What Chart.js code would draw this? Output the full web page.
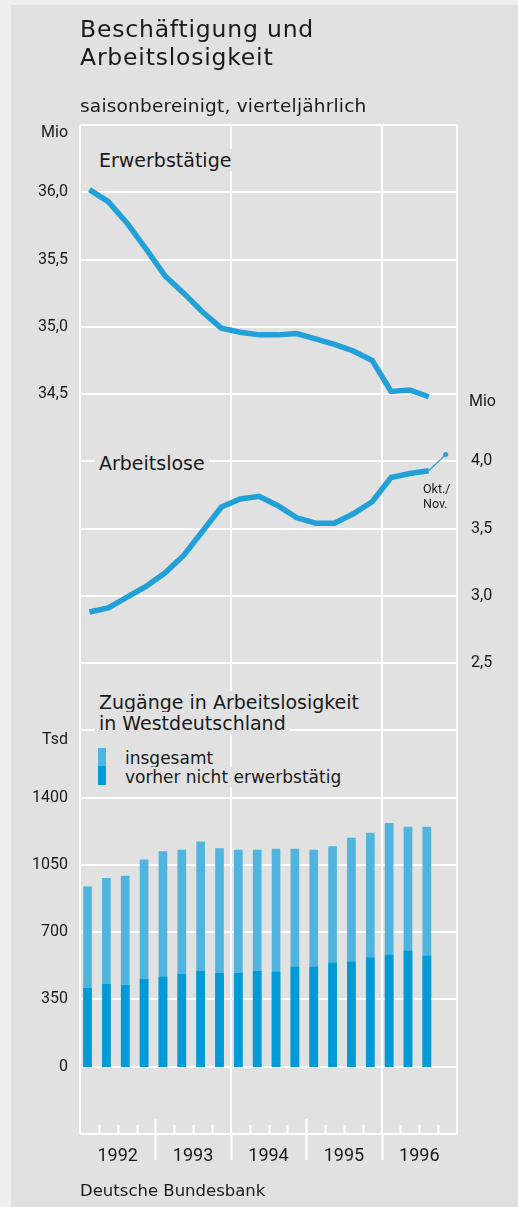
<!DOCTYPE html>
<html lang="de">
<head>
<meta charset="utf-8">
<title>Beschäftigung und Arbeitslosigkeit</title>
<script src="https://cdn.jsdelivr.net/npm/chart.js@4.4.1/dist/chart.umd.min.js"></script>
<style>
  html, body { margin: 0; padding: 0; background: #efefef; }
  #wrap { position: relative; width: 518px; height: 1207px; overflow: hidden; }
  #panel { position: absolute; left: 11px; top: 5px; right: 0; bottom: 0; background: #e1e1e1; }
  canvas { position: absolute; left: 0; top: 0; }
  .t { position: absolute; white-space: nowrap; color: #1a1a1a; font-family: "DejaVu Sans", sans-serif; }
  .box { background: #e1e1e1; padding: 0 4px; }
  .unit { font-family: Roboto, sans-serif; font-size: 16px; line-height: 16px; }
  .swatch { position: absolute; left: 98px; width: 8px; }
</style>
</head>
<body>
<div id="wrap">
  <div id="panel"></div>
  <canvas id="chart" width="518" height="1207"></canvas>

  <div class="t" style="left:80px;top:15px;font-size:23.5px;line-height:28px;letter-spacing:0.8px;">Beschäftigung und<br>Arbeitslosigkeit</div>
  <div class="t" style="left:80px;top:95px;font-size:18.5px;line-height:22px;letter-spacing:0.2px;">saisonbereinigt, vierteljährlich</div>

  <div class="t unit" style="right:450px;top:124px;">Mio</div>
  <div class="t unit" style="left:469px;top:393px;">Mio</div>
  <div class="t unit" style="right:450px;top:731px;">Tsd</div>

  <div class="t" style="left:95px;top:149px;font-size:19px;line-height:22px;"><span class="box">Erwerbstätige</span></div>
  <div class="t" style="left:95px;top:452px;font-size:19px;line-height:22px;"><span class="box">Arbeitslose</span></div>
  <div class="t" style="left:423px;top:481px;font-family:Roboto,sans-serif;font-size:12.5px;line-height:15px;">Okt./<br>Nov.</div>

  <div class="t" style="left:95px;top:692px;font-size:19px;line-height:21px;"><span class="box">Zugänge in Arbeitslosigkeit</span><br><span class="box">in Westdeutschland</span></div>
  <div class="swatch" style="top:748px;height:18px;background:#4fb5de;"></div>
  <div class="swatch" style="top:766px;height:19px;background:#009bd6;"></div>
  <div class="t" style="left:121px;top:749px;font-size:17px;line-height:19px;"><span class="box">insgesamt</span><br><span class="box">vorher nicht erwerbstätig</span></div>

  <div class="t" style="left:80px;top:1181px;font-size:16.5px;line-height:20px;">Deutsche Bundesbank</div>
</div>

<script>
// Quartalswerte 1992 Q1 bis 1996 Q3
const years = ["1992", "1993", "1994", "1995", "1996"];

// Mio
const erwerbstaetige = [36.02, 35.93, 35.77, 35.58, 35.38, 35.25, 35.11, 34.99, 34.96, 34.94,
    34.94, 34.95, 34.91, 34.87, 34.82, 34.75, 34.52, 34.53, 34.48];
const arbeitslose = [2.88, 2.91, 2.99, 3.07, 3.17, 3.30, 3.48, 3.66, 3.72, 3.74,
    3.67, 3.58, 3.54, 3.54, 3.61, 3.70, 3.88, 3.91, 3.93];
const arbeitsloseOktNov = 4.05;

// Tsd
const zugaengeInsgesamt = [936, 980, 992, 1076, 1120, 1127, 1170, 1135, 1127, 1127,
    1132, 1132, 1127, 1146, 1190, 1216, 1267, 1247, 1247];
const zugaengeVorherNicht = [408, 429, 423, 455, 467, 481, 497, 486, 486, 497,
    492, 518, 518, 539, 544, 567, 581, 602, 576];

// x scale counts quarters since 1992 Q1
const oktNovPos = 19.4;

// all three value axes share one grid of 15 steps
const empMin = 29, empMax = 36.5, empStep = 0.5;
const barMin = -350, barMax = 4900, barStep = 350;
const aloMin = -1, aloMax = 6.5, aloStep = 0.5;

const white = "#ffffff";
const lineBlue = "#22a0d8";
const lightBlue = "#4fb5de";
const darkBlue = "#009bd6";
const textColor = "#1a1a1a";

const quarterTicks = {
    id: "quarterTicks",
    beforeDatasetsDraw(chart) {
        const { ctx, chartArea: { bottom }, scales: { x } } = chart;
        ctx.save();
        ctx.strokeStyle = white;
        ctx.lineWidth = 2;
        for (let q = 1; q < 20; q++) {
            const px = Math.round(x.getPixelForValue(q)) + 0.5;
            let from = bottom - 9;
            let to = bottom;
            if (q % 4 === 0) {
                from = q % 8 === 0 ? bottom : bottom - 15;
                to = bottom + 26;
            }
            ctx.beginPath();
            ctx.moveTo(px, from);
            ctx.lineTo(px, to);
            ctx.stroke();
        }
        ctx.restore();
    },
};

const comma = (v) => v.toFixed(1).replace(".", ",");

// left axis shows employment ticks on top and the Tsd ticks of the bar panel below
const leftLabel = (v) => {
    if (v >= 34.5 && v <= 36) return comma(v);
    const b = Math.round(barMin + ((v - empMin) / empStep) * barStep);
    return b >= 0 && b <= 1400 ? String(b) : "";
};

new Chart(document.getElementById("chart"), {
    type: "bar",
    data: {
        datasets: [
            {
                type: "line",
                label: "Erwerbstätige",
                data: erwerbstaetige.map((v, i) => ({ x: i + 0.5, y: v })),
                yAxisID: "yE",
                borderColor: lineBlue,
                borderWidth: 5.5,
                pointRadius: 0,
                tension: 0,
                order: 0,
            },
            {
                type: "line",
                label: "Arbeitslose",
                data: arbeitslose.map((v, i) => ({ x: i + 0.5, y: v })),
                yAxisID: "yA",
                borderColor: lineBlue,
                borderWidth: 5.5,
                pointRadius: 0,
                tension: 0,
                order: 0,
            },
            {
                type: "line",
                label: "Okt./Nov.",
                data: [
                    { x: arbeitslose.length - 0.5, y: arbeitslose[arbeitslose.length - 1] },
                    { x: oktNovPos, y: arbeitsloseOktNov },
                ],
                yAxisID: "yA",
                borderColor: lineBlue,
                borderWidth: 1.2,
                pointRadius: [0, 2.5],
                pointBorderWidth: 0,
                pointBackgroundColor: lineBlue,
                order: 0,
            },
            {
                label: "vorher nicht erwerbstätig",
                data: zugaengeVorherNicht.map((v, i) => ({ x: i + 0.4, y: v })),
                yAxisID: "y",
                backgroundColor: darkBlue,
                barThickness: 8,
                grouped: false,
                order: 1,
            },
            {
                label: "insgesamt",
                data: zugaengeInsgesamt.map((v, i) => ({ x: i + 0.4, y: v })),
                yAxisID: "y",
                backgroundColor: lightBlue,
                barThickness: 8,
                grouped: false,
                order: 2,
            },
        ],
    },
    options: {
        responsive: false,
        animation: false,
        devicePixelRatio: 1,
        layout: { padding: { top: 125, left: 0, right: 0, bottom: 0 } },
        plugins: {
            legend: { display: false },
            tooltip: { enabled: false },
        },
        scales: {
            x: {
                type: "linear",
                min: 0,
                max: 20,
                offset: false,
                grid: {
                    offset: false,
                    drawTicks: false,
                    lineWidth: 2,
                    color: (c) => (c.tick && [0, 8, 16, 20].includes(c.tick.value) ? white : "rgba(0,0,0,0)"),
                },
                border: { display: false },
                ticks: {
                    stepSize: 1,
                    autoSkip: false,
                    maxRotation: 0,
                    padding: 12,
                    color: textColor,
                    font: { family: "Roboto", size: 18 },
                    callback: (v) => (v % 4 === 2 ? years[(v - 2) / 4] : ""),
                },
                afterFit: (s) => { s.height = 73; },
            },
            yE: {
                position: "left",
                min: empMin,
                max: empMax,
                grid: { color: white, lineWidth: 2, drawTicks: false },
                border: { display: false },
                ticks: {
                    stepSize: empStep,
                    padding: 12,
                    autoSkip: false,
                    color: textColor,
                    font: { family: "Roboto", size: 16 },
                    callback: leftLabel,
                },
                afterFit: (s) => { s.width = 80; },
            },
            y: {
                display: false,
                min: barMin,
                max: barMax,
            },
            yA: {
                position: "right",
                min: aloMin,
                max: aloMax,
                grid: { display: false, drawTicks: false },
                border: { display: false },
                ticks: {
                    stepSize: aloStep,
                    padding: 14,
                    autoSkip: false,
                    color: textColor,
                    font: { family: "Roboto", size: 16 },
                    callback: (v) => (v >= 2.5 && v <= 4 ? comma(v) : ""),
                },
                afterFit: (s) => { s.width = 61; },
            },
        },
    },
    plugins: [quarterTicks],
});
</script>
</body>
</html>
